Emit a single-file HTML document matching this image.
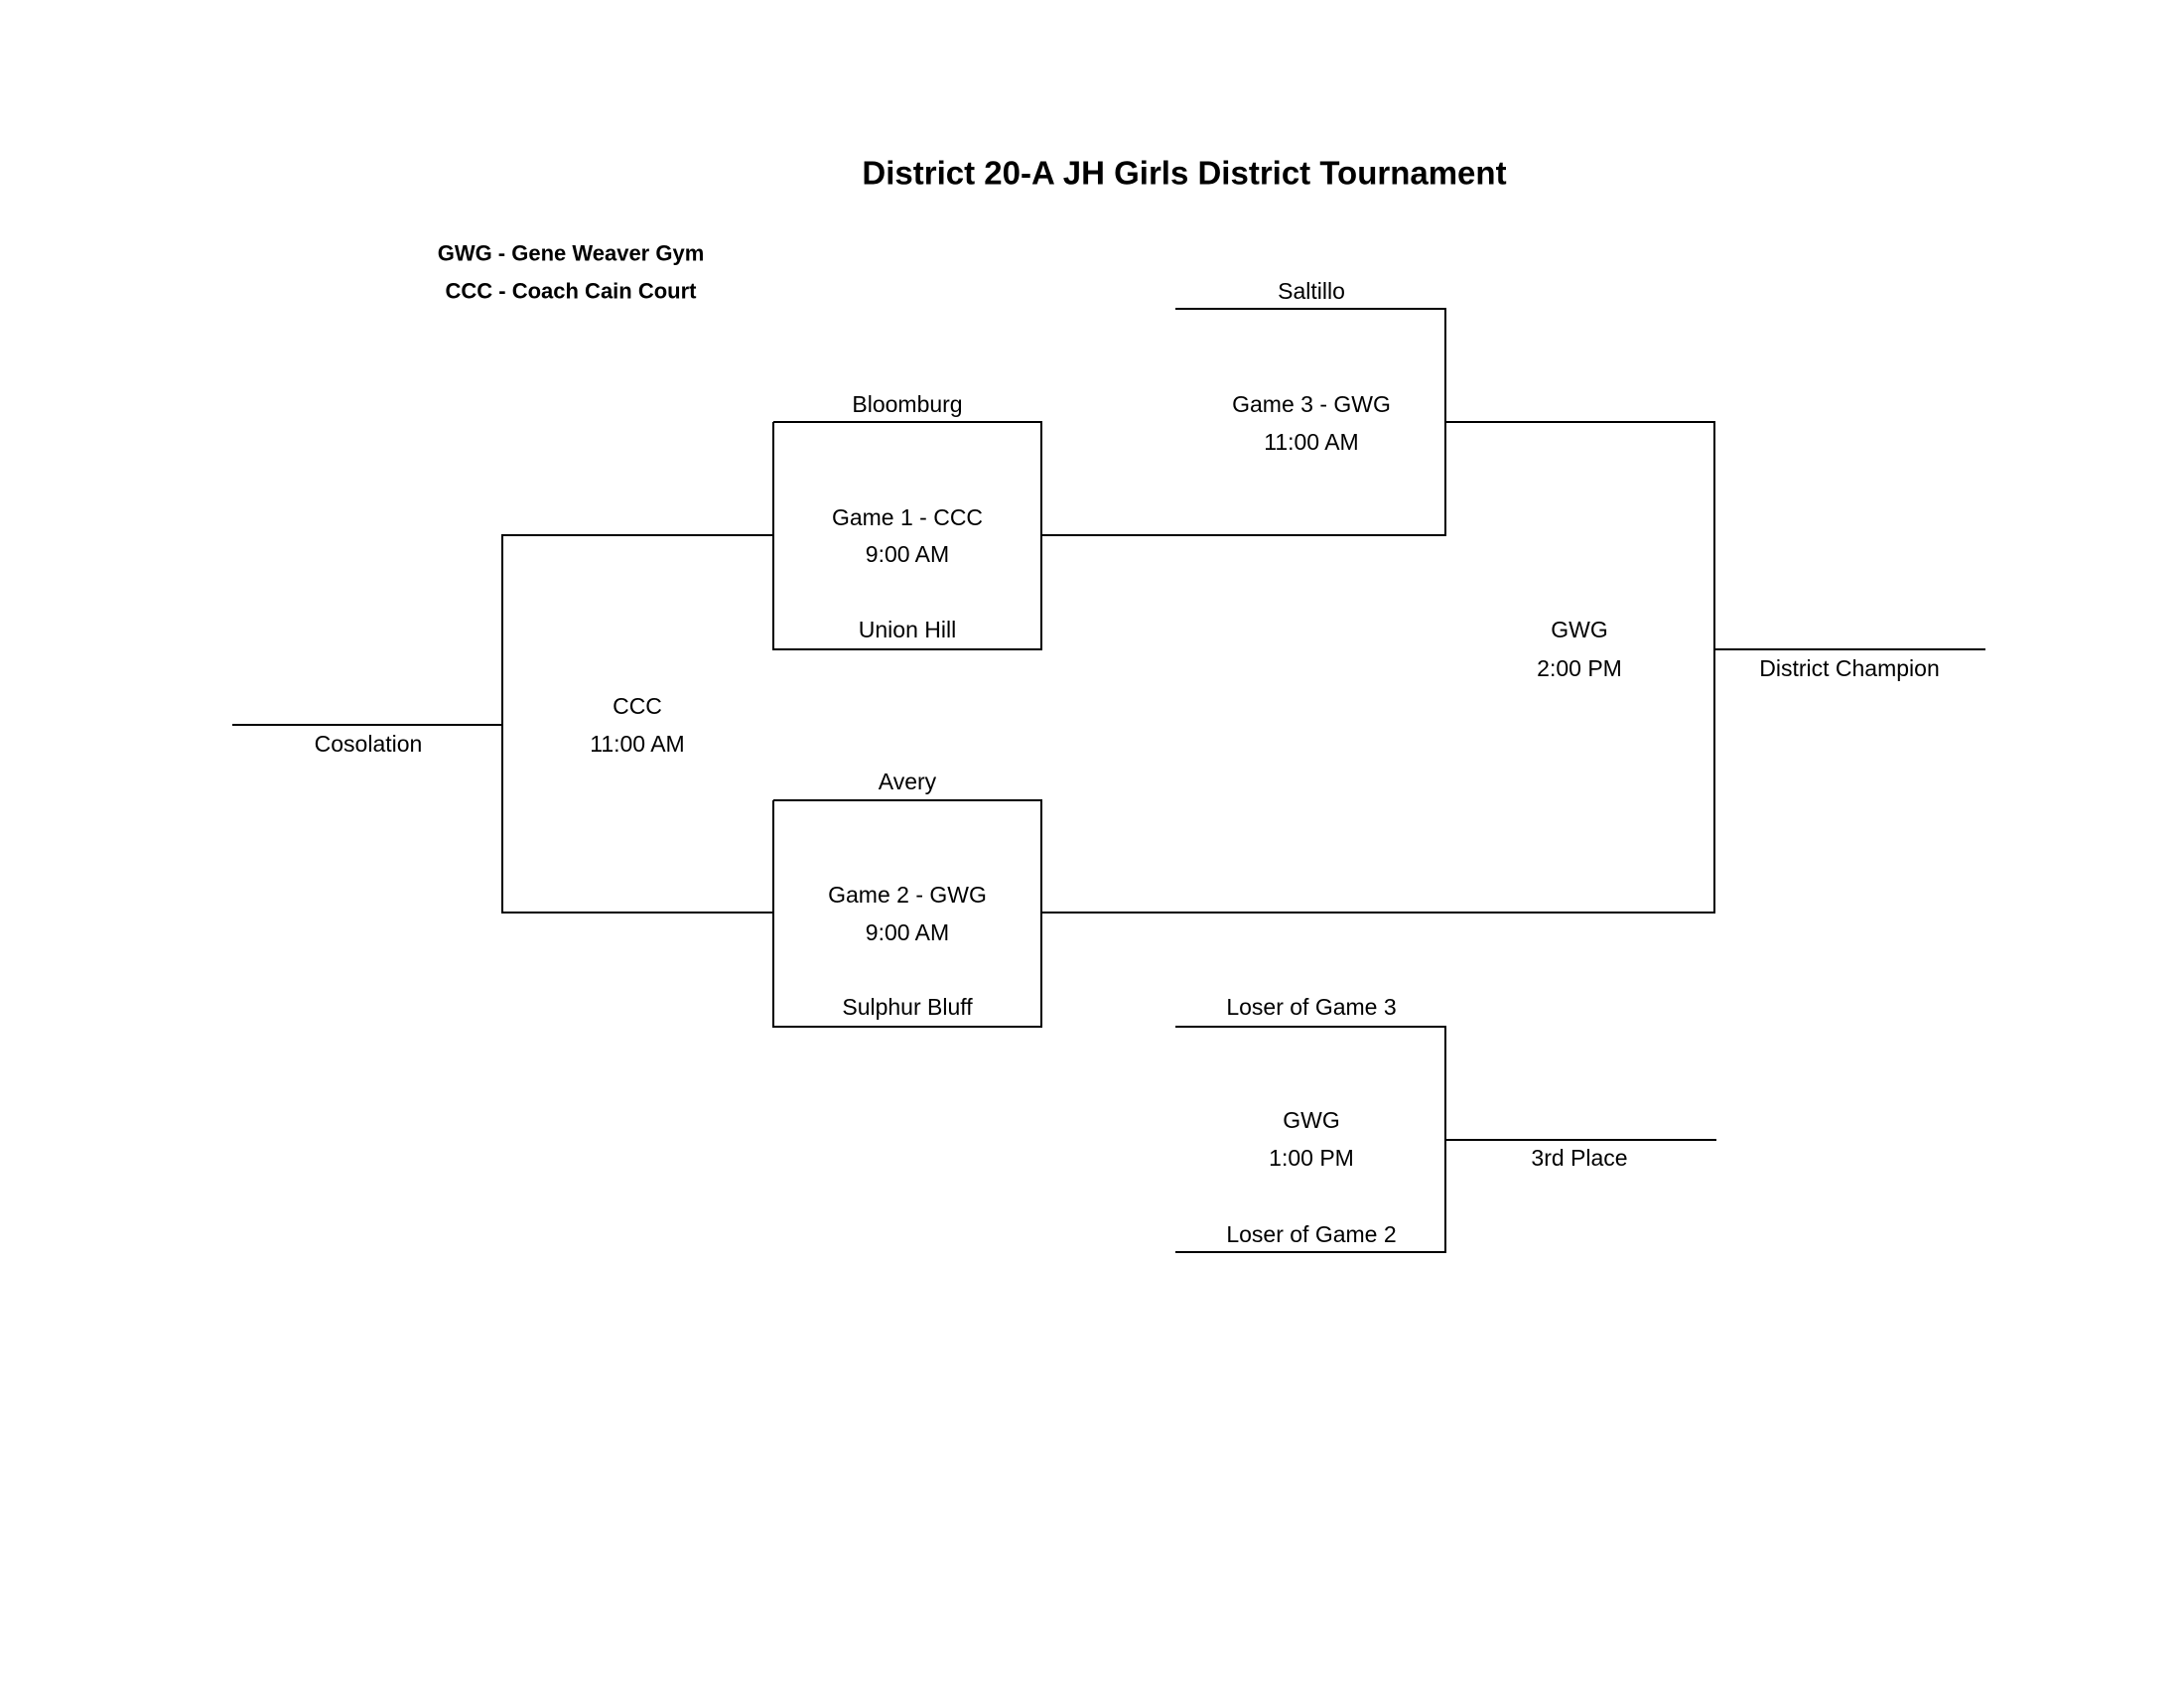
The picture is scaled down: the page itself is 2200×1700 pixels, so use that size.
<!DOCTYPE html>
<html><head><meta charset="utf-8"><style>html,body{margin:0;padding:0;background:#fff}svg{display:block}</style></head>
<body>
<svg width="2200" height="1700" xmlns="http://www.w3.org/2000/svg" font-family="Liberation Sans, Arial, sans-serif">
<g stroke="#000" stroke-width="2" fill="none">
<path d="M1184 311H1456V539H1049"/>
<path d="M779 425H1049V654H779V425"/>
<path d="M1456 425H1727V919H1049"/>
<path d="M1727 654H2000"/>
<path d="M779 539H506V919H779"/>
<path d="M234 730H506"/>
<path d="M779 806H1049V1034H779V806"/>
<path d="M1184 1034H1456V1261H1184"/>
<path d="M1456 1148H1729"/>
</g>
<g font-size="23" text-anchor="middle" dominant-baseline="central" fill="#000">
<text x="1193" y="174" font-size="33" font-weight="bold">District 20-A JH Girls District Tournament</text>
<text x="575" y="255" font-size="22" font-weight="bold">GWG - Gene Weaver Gym</text>
<text x="575" y="293" font-size="22" font-weight="bold">CCC - Coach Cain Court</text>
<text x="1321" y="293">Saltillo</text>
<text x="1321" y="407">Game 3 - GWG</text>
<text x="1321" y="445">11:00 AM</text>
<text x="914" y="407">Bloomburg</text>
<text x="914" y="521">Game 1 - CCC</text>
<text x="914" y="558">9:00 AM</text>
<text x="914" y="634">Union Hill</text>
<text x="1591" y="634">GWG</text>
<text x="1591" y="673">2:00 PM</text>
<text x="1863" y="673">District Champion</text>
<text x="642" y="711">CCC</text>
<text x="642" y="749">11:00 AM</text>
<text x="371" y="749">Cosolation</text>
<text x="914" y="787">Avery</text>
<text x="914" y="901">Game 2 - GWG</text>
<text x="914" y="939">9:00 AM</text>
<text x="914" y="1014">Sulphur Bluff</text>
<text x="1321" y="1014">Loser of Game 3</text>
<text x="1321" y="1128">GWG</text>
<text x="1321" y="1166">1:00 PM</text>
<text x="1591" y="1166">3rd Place</text>
<text x="1321" y="1243">Loser of Game 2</text>
</g>
</svg>
</body></html>
